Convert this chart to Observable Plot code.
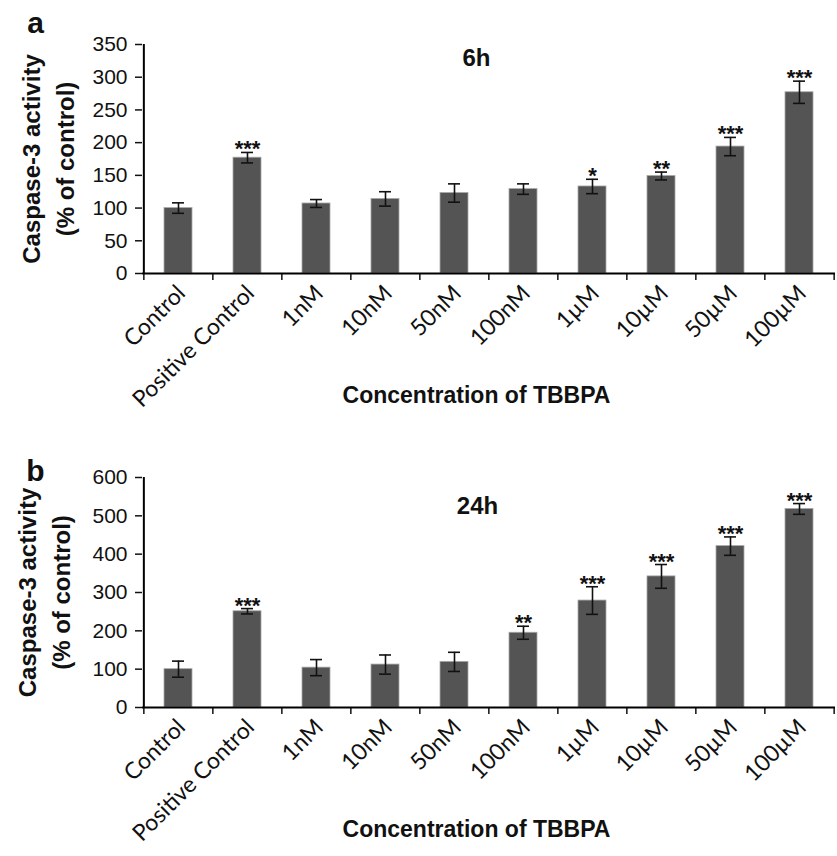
<!DOCTYPE html>
<html><head><meta charset="utf-8">
<script src="https://cdn.jsdelivr.net/npm/d3@7"></script>
<script src="https://cdn.jsdelivr.net/npm/@observablehq/plot@0.6"></script>
<style>body{margin:0;background:#fff;} #chart{width:837px;} svg{display:block;}</style>
</head><body><div id="chart"></div>
<script>
const categories = ["Control","Positive Control","1nM","10nM","50nM","100nM","1µM","10µM","50µM","100µM"];
const values6h = [100,177,107,114,123,129,133,149,194,277];
const errors6h = [8,8,6,11,14,8,11,6,14,17];
const stars6h = ["","***","","","","","*","**","***","***"];
const yTicks6h = [0,50,100,150,200,250,300,350];
const values24h = [100,251,104,112,119,195,279,342,421,518];
const errors24h = [21,7,21,25,25,17,36,31,24,14];
const stars24h = ["","***","","","","**","***","***","***","***"];
const yTicks24h = [0,100,200,300,400,500,600];
const yTitle = "Caspase-3 activity\n(% of control)";
const xTitle = "Concentration of TBBPA";

const W = 837, ML = 142, MR = 2;
const step = (W - ML - MR) / categories.length;

function panel({letter, title, values, errors, stars, yTicks, height, marginTop, marginBottom, titleDx, titleDy, letterDy, yTitleDx}) {
  const rows = categories.map((c, i) => ({c, v: values[i], e: errors[i], s: stars[i]}));
  const ymax = yTicks[yTicks.length - 1];
  const ink = "#111";
  return Plot.plot({
    width: W, height, marginLeft: ML, marginRight: MR, marginTop, marginBottom,
    style: {fontFamily: "'Liberation Sans', Arial, sans-serif", color: ink, background: "#fff", overflow: "visible"},
    x: {domain: categories, paddingInner: 0.6, paddingOuter: 0.3, axis: null},
    y: {domain: [0, ymax], axis: null},
    marks: [
      Plot.barY(rows, {x: "c", y: "v", fill: "#545454", stroke: "#a8a8a8", strokeWidth: 0.8}),
      Plot.ruleX(rows, {x: "c", y1: d => d.v - d.e, y2: d => d.v + d.e, stroke: ink, strokeWidth: 1.6}),
      Plot.tickY(rows, {x: "c", y: d => d.v + d.e, insetLeft: 8, insetRight: 8, stroke: ink, strokeWidth: 1.6}),
      Plot.tickY(rows, {x: "c", y: d => d.v - d.e, insetLeft: 8, insetRight: 8, stroke: ink, strokeWidth: 1.6}),
      Plot.text(rows.filter(d => d.s), {x: "c", y: d => d.v + d.e, text: "s", lineAnchor: "bottom", dy: 4, fontSize: 22, fontWeight: "bold", fill: ink}),
      Plot.axisY({ticks: yTicks, tickSize: 7, tickPadding: 8, fontSize: 21, strokeWidth: 1.5, label: null}),
      Plot.axisX({tickSize: 7, tickFormat: () => "", dx: -step / 2, strokeWidth: 1.5, label: null}),
      Plot.axisX({ticks: [categories[categories.length - 1]], tickSize: 7, tickFormat: () => "", dx: step / 2, strokeWidth: 1.5, label: null}),
      Plot.axisX({tickSize: 0, tickRotate: -45, tickPadding: 16, dx: 3, fontSize: 23, fontFamily: "Lato, 'Open Sans', sans-serif", label: null}),
      Plot.ruleY([0], {stroke: "#000", strokeWidth: 2}),
      Plot.ruleX([categories[0]], {dx: -step / 2, y1: 0, y2: ymax, stroke: "#000", strokeWidth: 2}),
      Plot.text([title], {frameAnchor: "top-left", text: d => d, dx: titleDx, dy: titleDy, lineAnchor: "middle", textAnchor: "middle", fontSize: 24, fontWeight: "bold"}),
      Plot.text([letter], {frameAnchor: "top-left", text: d => d, dx: 35 - ML, dy: letterDy, lineAnchor: "bottom", textAnchor: "middle", fontSize: 30, fontWeight: "bold"}),
      Plot.text([yTitle], {frameAnchor: "left", text: d => d, rotate: -90, dx: yTitleDx - ML, lineHeight: 1.4, lineAnchor: "middle", textAnchor: "middle", fontSize: 24, fontWeight: "bold"}),
      Plot.text([xTitle], {frameAnchor: "bottom-left", text: d => d, dx: 476 - ML, dy: 122, lineAnchor: "middle", textAnchor: "middle", fontSize: 23, fontWeight: "bold"})
    ]
  });
}

const chart = document.getElementById("chart");
chart.append(panel({letter: "a", title: "6h", values: values6h, errors: errors6h, stars: stars6h, yTicks: yTicks6h,
  height: 420, marginTop: 44, marginBottom: 147, titleDx: 334, titleDy: 14, letterDy: -12, yTitleDx: 46}));
chart.append(panel({letter: "b", title: "24h", values: values24h, errors: errors24h, stars: stars24h, yTicks: yTicks24h,
  height: 436, marginTop: 57, marginBottom: 149, titleDx: 335, titleDy: 29, letterDy: 3, yTitleDx: 42}));
</script>
</body></html>
